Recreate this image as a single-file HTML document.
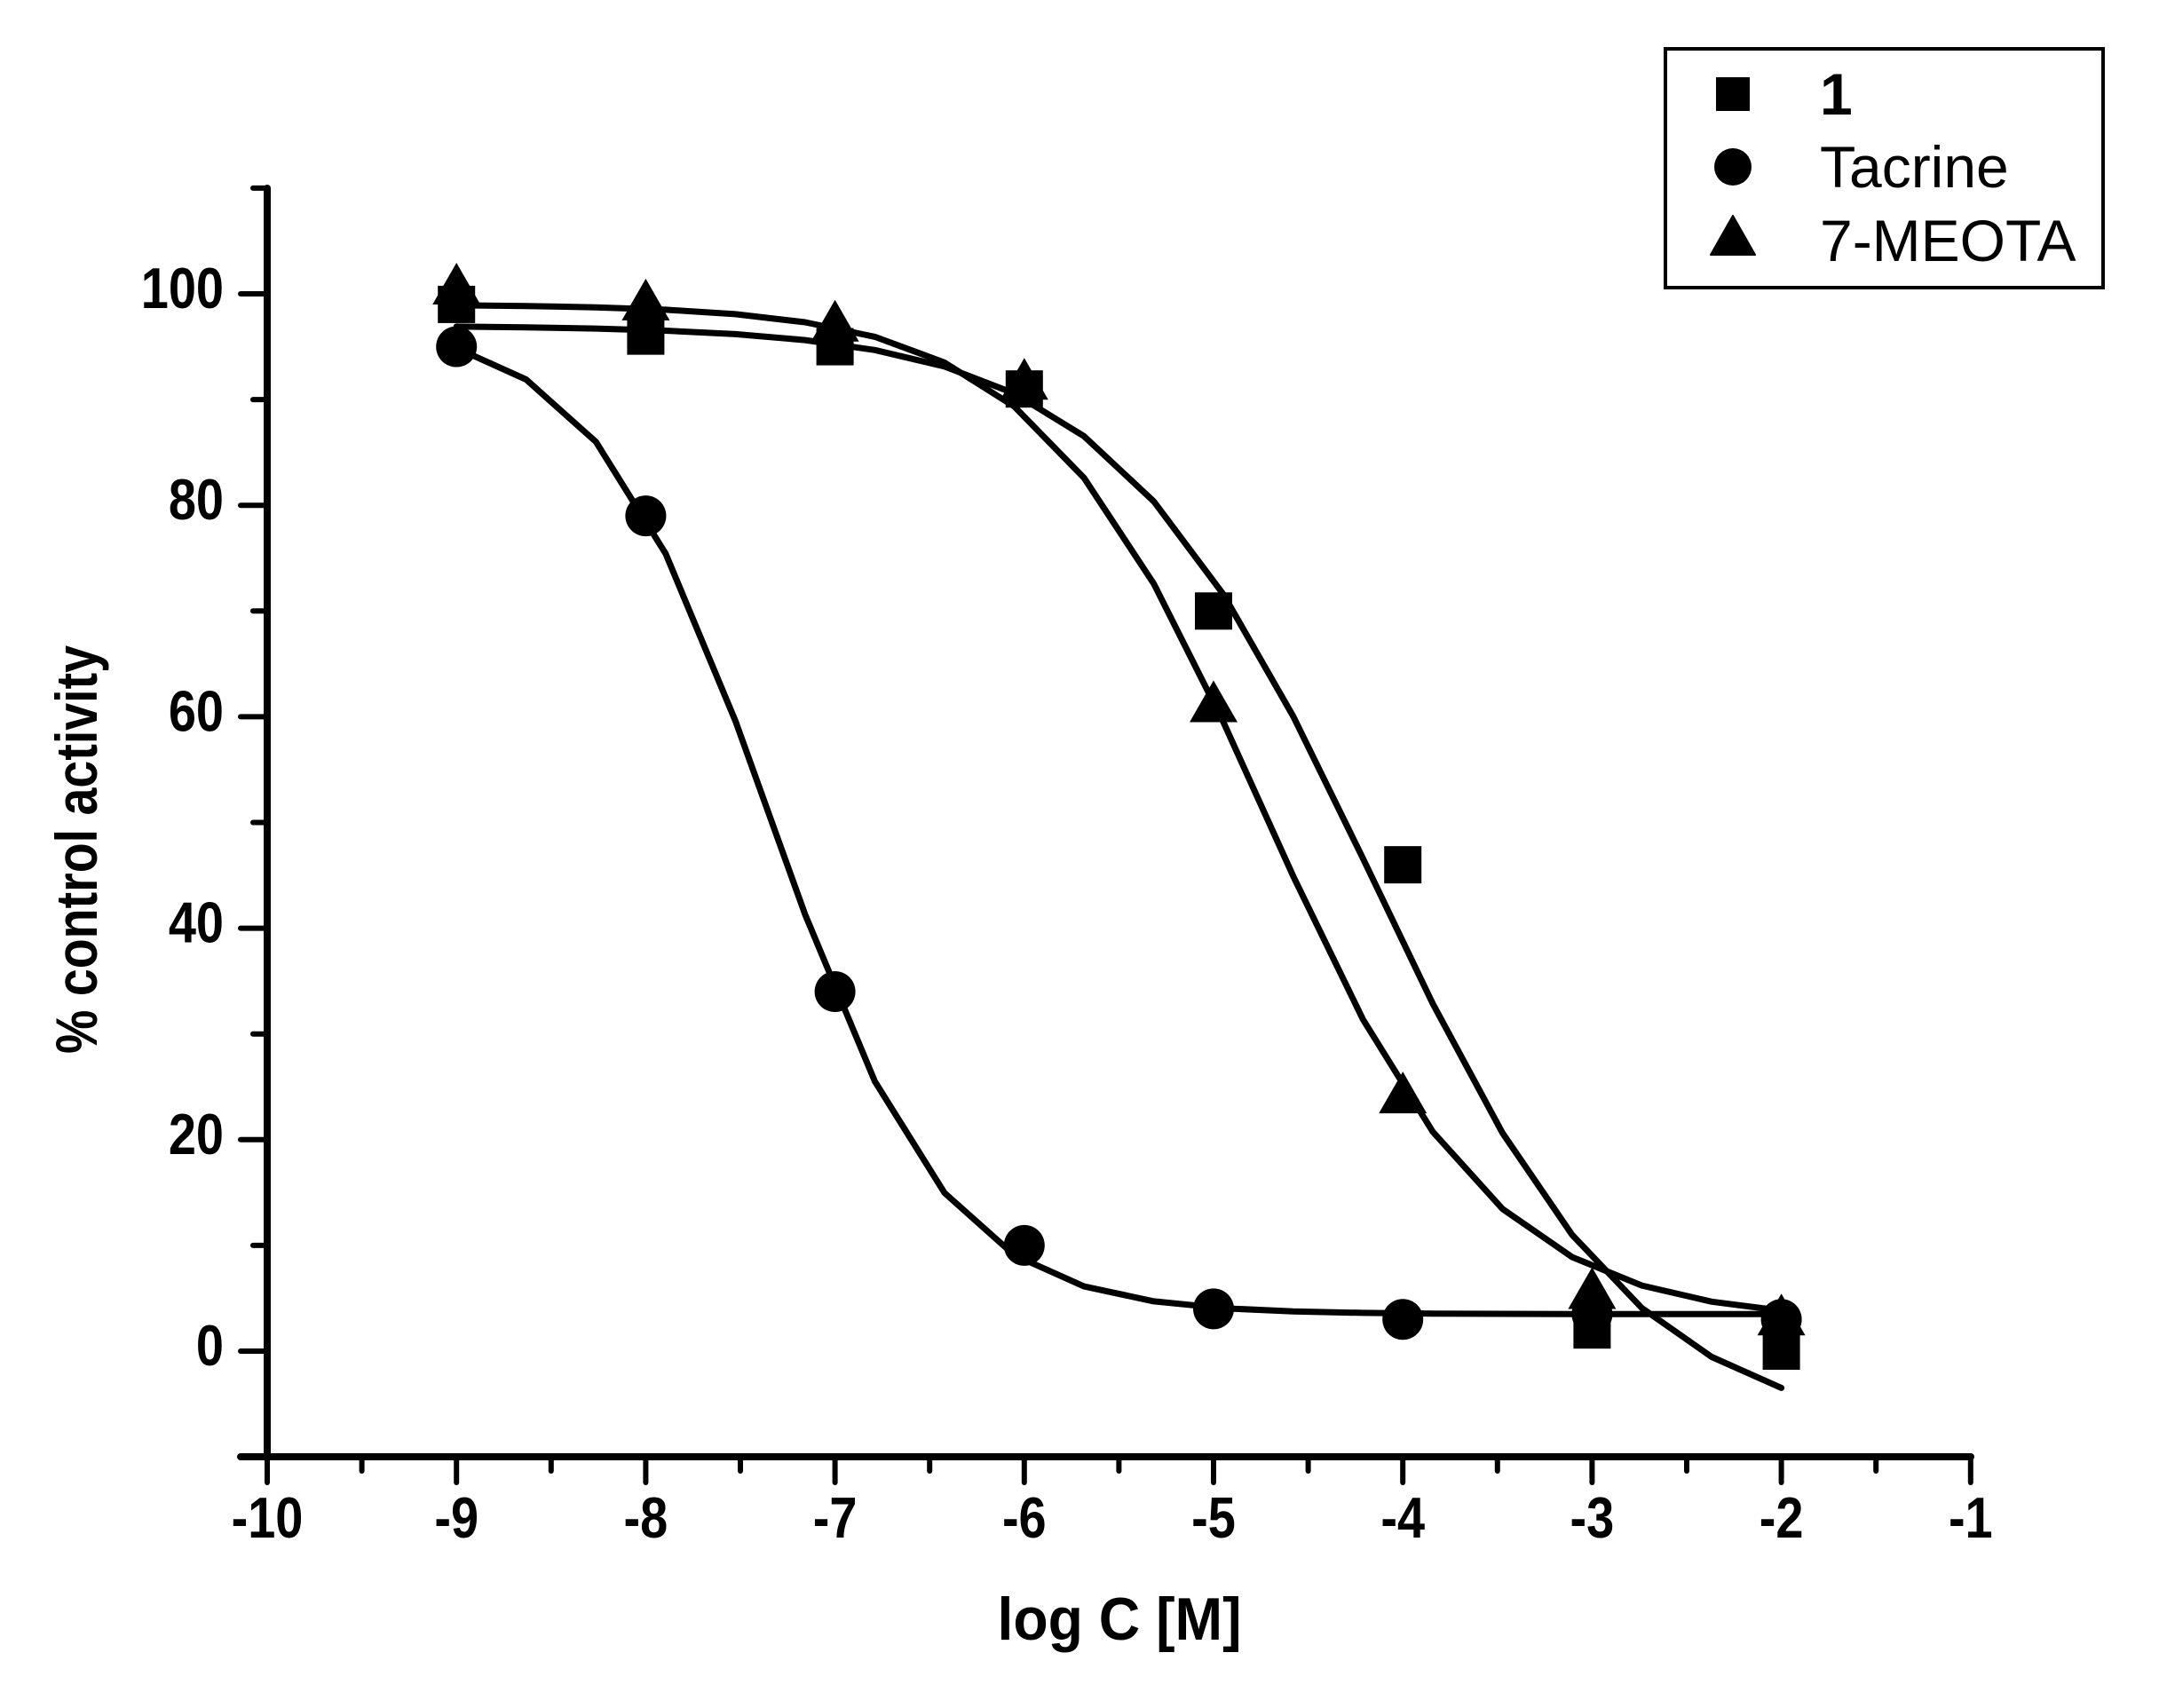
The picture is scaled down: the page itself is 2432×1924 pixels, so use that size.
<!DOCTYPE html>
<html><head><meta charset="utf-8"><style>
html,body{margin:0;padding:0;background:#fff;}
svg{display:block;}
text{font-family:"Liberation Sans",Arial,sans-serif;fill:#000;}
</style></head><body>
<svg id="s" width="2432" height="1924" viewBox="0 0 2432 1924" xmlns="http://www.w3.org/2000/svg">
<rect width="2432" height="1924" fill="#fff"/>
<g id="axes" stroke="#000" stroke-linecap="round" fill="none"></g>
<g id="curves" stroke="#000" stroke-width="7" fill="none" stroke-linejoin="round" stroke-linecap="round"></g>
<g id="marks" fill="#000"></g>
<g id="labels" font-weight="bold"></g>
<text x="1261" y="1847" font-size="68" font-weight="bold" text-anchor="middle" textLength="275" lengthAdjust="spacingAndGlyphs">log C [M]</text>
<text transform="translate(109,957) rotate(-90)" x="0" y="0" font-size="66" font-weight="bold" text-anchor="middle" textLength="460" lengthAdjust="spacingAndGlyphs">% control activity</text>
<rect x="1876" y="55" width="493" height="269" fill="none" stroke="#000" stroke-width="4"/>
<rect x="1933" y="87" width="38" height="38" fill="#000"/>
<circle cx="1952" cy="188" r="21" fill="#000"/>
<polygon points="1952,243 1977,287 1927,287" fill="#000" stroke="#000" stroke-width="2" stroke-linejoin="round"/>
<text x="2050" y="129" font-size="66" font-weight="bold">1</text>
<text x="2050" y="211" font-size="66">Tacrine</text>
<text x="2050" y="294" font-size="66">7-MEOTA</text>
</svg>
<script>
var NS="http://www.w3.org/2000/svg";
function X(x){return 301+(x+10)*213.2;}
function Y(v){return 1522-v*11.91;}
function el(p,t,a,txt){var e=document.createElementNS(NS,t);for(var k in a)e.setAttribute(k,a[k]);if(txt!==undefined)e.textContent=txt;document.getElementById(p).appendChild(e);return e;}
// axes
el("axes","line",{x1:301,y1:212,x2:301,y2:1641,"stroke-width":8});
el("axes","line",{x1:271,y1:1641,x2:2220,y2:1641,"stroke-width":8});
for(var i=0;i<=9;i++){var x=X(-10+i);el("axes","line",{x1:x,y1:1641,x2:x,y2:1670,"stroke-width":6});
 el("labels","text",{transform:"translate("+x+",1732) scale(0.86,1)","font-size":65,"text-anchor":"middle"},String(-10+i));
 if(i<9){var xm=X(-9.5+i);el("axes","line",{x1:xm,y1:1641,x2:xm,y2:1657,"stroke-width":6});}}
for(var v=-10;v<=110;v+=10){var y=Y(v);var major=(v%20===0&&v>=0&&v<=100);
 el("axes","line",{x1:major?271:285,y1:y,x2:301,y2:y,"stroke-width":6});
 if(major)el("labels","text",{transform:"translate(252,"+(y+16)+") scale(0.86,1)","font-size":65,"text-anchor":"end"},String(v));}
// curves
function curve(top,bot,x0,h){var pts=[];for(var k=0;k<=19;k++){var x=-9+k*7/19;var v=bot+(top-bot)/(1+Math.pow(10,h*(x-x0)));pts.push(X(x).toFixed(1)+","+Y(v).toFixed(1));}
 el("curves","polyline",{points:pts.join(" ")});}
curve(97.5,3.5,-7.343,0.93);
curve(97,-8,-4.155,0.625);
curve(99,2.8,-4.73,0.72);
// markers
var sq=[[-9,99],[-8,96],[-7,95],[-6,91],[-5,70],[-4,46],[-3,2],[-2,0]];
var ci=[[-9,95],[-8,79],[-7,34],[-6,10],[-5,4],[-4,3],[-3,3.5],[-2,3]];
var tr=[[-9,100.5],[-8,99],[-7,97],[-6,91.5],[-5,61],[-4,24],[-3,5.5],[-2,3]];
sq.forEach(function(p){var x=X(p[0]),y=Y(p[1]);el("marks","rect",{x:x-21,y:y-21,width:42,height:42});});
ci.forEach(function(p){el("marks","circle",{cx:X(p[0]),cy:Y(p[1]),r:23});});
tr.forEach(function(p){var x=X(p[0]),y=Y(p[1]);el("marks","polygon",{points:(x)+","+(y-29)+" "+(x+27)+","+(y+18)+" "+(x-27)+","+(y+18)});});
</script>
</body></html>
